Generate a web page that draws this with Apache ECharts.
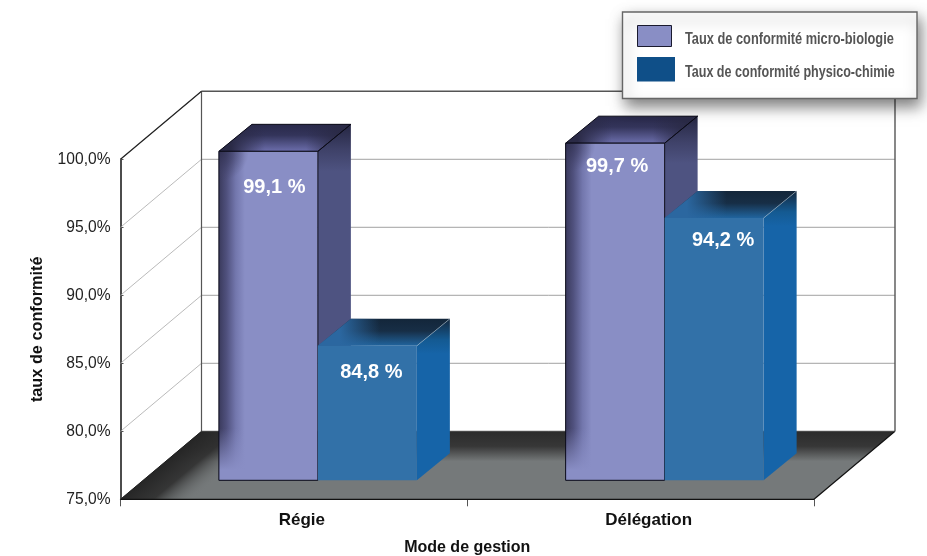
<!DOCTYPE html>
<html lang="fr">
<head>
<meta charset="utf-8">
<title>Taux de conformité</title>
<style>html,body{margin:0;padding:0;background:#fff}#c{width:927px;height:556px}</style>
<script src="https://cdn.jsdelivr.net/npm/echarts@6/dist/echarts.min.js"></script>
</head>
<body>
<div id="c"></div>
<script>
const categories = ['Régie', 'Délégation'];
const microBiologie = [99.1, 99.7];
const physicoChimie = [84.8, 94.2];
const yTicks = [75, 80, 85, 90, 95, 100];
const seriesNames = ['Taux de conformité micro-biologie', 'Taux de conformité physico-chimie'];

const G = echarts.graphic;
const WALL = { dx: 81, dy: -68 };
const FRONT = { dx: 24, dy: -19, topDy: -20.2 };
const DEPTH = { dx: 33, dy: -27 };
const BAR_W = 99;
const LABEL_NUDGE = [[[6, 36], [4, 27]], [[2, 23], [9, 23]]];
const fontAxis = '"Liberation Sans", Arial, sans-serif';

function poly(points, style, z2) {
  return { type: 'polygon', shape: { points }, style, z2: z2 || 0, silent: true };
}
function seg(x1, y1, x2, y2, stroke, lineWidth, z2) {
  return { type: 'line', shape: { x1, y1, x2, y2 }, style: { stroke, lineWidth: lineWidth || 1 }, z2: z2 || 0, silent: true };
}
function lin(x1, y1, x2, y2, stops) {
  return new G.LinearGradient(x1, y1, x2, y2, stops.map(s => ({ offset: s[0], color: s[1] })), true);
}
function rad(x, y, r, stops) {
  return new G.RadialGradient(x, y, r, stops.map(s => ({ offset: s[0], color: s[1] })), true);
}

function renderFrame(params, api) {
  const v = api.value(1);
  const xa = api.coord([0, v]);
  const halfBand = api.size([1, 0])[0] / 2;
  const x0 = xa[0] - halfBand;
  const x1 = x0 + halfBand * 4;
  const y = xa[1];
  const kids = [];
  if (v === yTicks[0]) {
    const bx0 = x0 + WALL.dx, bx1 = x1 + WALL.dx, by = y + WALL.dy;
    kids.push(poly([[x0, y], [x1, y], [bx1, by], [bx0, by]], {
      fill: lin(0, by, 0, y, [[0, '#2b2b2b'], [0.22, '#373737'], [0.44, '#75797a'], [1, '#75797a']])
    }));
    const mx = x0 + WALL.dx / 2, my = y + WALL.dy / 2;
    kids.push(poly([[x0, y], [x1, y], [bx1, by], [bx0, by]], {
      fill: lin(mx, my, mx + 30, my + 36, [[0, 'rgba(38,38,38,1)'], [0.45, 'rgba(48,48,48,0.92)'], [1, 'rgba(117,121,122,0)']])
    }, 1));
    kids.push(seg(x0, y, x1, y, '#111', 1.2, 2));
    kids.push(seg(x1, y, bx1, by, '#111', 1.2, 2));
    kids.push(seg(x0, y, bx0, by, '#222', 1, 2));
    kids.push(seg(bx0, by, bx1, by, '#444', 1, 2));
  } else {
    kids.push(seg(x0, y, x0 + WALL.dx, y + WALL.dy, '#a8a8a8', 0.8));
    if (v !== yTicks[yTicks.length - 1]) {
      kids.push(seg(x0 + WALL.dx, y + WALL.dy, x1 + WALL.dx, y + WALL.dy, '#a2a2a2', 1));
    }
  }
  if (v === yTicks[yTicks.length - 1]) {
    const bot = api.coord([0, yTicks[0]])[1];
    const bx0 = x0 + WALL.dx, bx1 = x1 + WALL.dx, by = y + WALL.dy;
    kids.push(seg(bx0, by, bx1, by, '#555', 1.4));
    kids.push(seg(bx0, by, bx0, bot + WALL.dy, '#555', 1.2));
    kids.push(seg(bx1, by, bx1, bot + WALL.dy, '#555', 1.4));
    kids.push(seg(x0, y, bx0, by, '#222', 1.2));
  }
  return { type: 'group', children: kids };
}

function renderBar(seriesIdx) {
  return function (params, api) {
    const cat = api.value(0), val = api.value(1);
    const c = api.coord([cat, val]);
    const base = api.coord([cat, yTicks[0]]);
    const left = c[0] + FRONT.dx + (seriesIdx === 0 ? -BAR_W : 0);
    const right = left + BAR_W;
    const top = c[1] + FRONT.topDy;
    const bottom = base[1] + FRONT.dy;
    const bk = { dx: DEPTH.dx, dy: DEPTH.dy };
    const kids = [];
    const isPurple = seriesIdx === 0;
    const front = isPurple ? '#898ec5' : '#3271a8';
    const topPts = [[left, top], [left + bk.dx, top + bk.dy], [right + bk.dx, top + bk.dy], [right, top]];
    const sidePts = [[right, top], [right + bk.dx, top + bk.dy], [right + bk.dx, bottom + bk.dy], [right, bottom]];
    if (isPurple) {
      kids.push(poly(sidePts, {
        fill: lin(0, top + bk.dy, 0, top + 20, [[0, '#252642'], [0.55, '#3f4269'], [1, '#4e5381']])
      }));
      kids.push(poly(topPts, {
        fill: lin(0, top + bk.dy, 0, top, [[0, '#29294a'], [0.4, '#33345a'], [1, '#6c6eac']])
      }, 2));
      kids.push(poly(topPts, {
        fill: lin(left + 12, 0, left + 46, 0, [[0, 'rgba(42,42,70,1)'], [1, 'rgba(42,42,70,0)']])
      }, 3));
      kids.push(poly(topPts, {
        fill: lin(right - 12, 0, right + 22, 0, [[0, 'rgba(42,42,70,0)'], [1, 'rgba(42,42,70,0.95)']]),
        stroke: '#0b0b18', lineWidth: 1
      }, 3));
      kids.push({ type: 'rect', shape: { x: left, y: top, width: BAR_W, height: bottom - top }, style: {
        fill: lin(left, 0, left + 26, 0, [[0, '#3a3a5c'], [0.3, '#50517e'], [0.65, '#7377ad'], [1, front]])
      }, z2: 4, silent: true });
      kids.push({ type: 'rect', shape: { x: left, y: top, width: 46, height: 30 }, style: {
        fill: rad(left, top, 30, [[0, 'rgba(48,48,80,0.95)'], [0.5, 'rgba(58,58,95,0.55)'], [1, 'rgba(70,70,110,0)']])
      }, z2: 5, silent: true });
      kids.push({ type: 'rect', shape: { x: left, y: bottom - 52, width: 30, height: 52 }, style: {
        fill: lin(0, bottom - 52, 0, bottom - 10, [[0, 'rgba(137,142,197,0)'], [1, 'rgba(137,142,197,1)']])
      }, z2: 5, silent: true });
      kids.push({ type: 'rect', shape: { x: left, y: top, width: BAR_W, height: bottom - top }, style: {
        fill: 'none', stroke: '#0b0b18', lineWidth: 1
      }, z2: 6, silent: true });
      kids.push(seg(right, top, right + bk.dx, top + bk.dy, '#0b0b18', 1, 6));
    } else {
      kids.push(poly(sidePts, {
        fill: lin(0, top + bk.dy, 0, top + 8, [[0, '#14283e'], [0.6, '#145a92'], [1, '#1664a8']])
      }));
      kids.push(poly(topPts, {
        fill: lin(0, top + bk.dy, 0, top, [[0, '#13263a'], [0.45, '#172e46'], [1, '#20649e']])
      }, 2));
      kids.push(poly(topPts, {
        fill: lin(left + 22, 0, left + 62, 0, [[0, 'rgba(43,103,160,1)'], [1, 'rgba(43,103,160,0)']])
      }, 3));
      kids.push({ type: 'rect', shape: { x: left, y: top, width: BAR_W, height: bottom - top }, style: { fill: front }, z2: 4, silent: true });
      kids.push(seg(right, top, right + bk.dx, top + bk.dy, 'rgba(170,190,205,0.7)', 0.7, 5));
    }
    const nudge = LABEL_NUDGE[cat][seriesIdx];
    kids.push({
      type: 'text', z2: 7, silent: true,
      x: (left + right) / 2 + nudge[0], y: top + nudge[1],
      style: {
        text: val.toFixed(1).replace('.', ',') + ' %',
        fill: '#fff', font: 'bold 20px ' + fontAxis, align: 'center', verticalAlign: 'middle'
      }
    });
    return { type: 'group', children: kids };
  };
}

const legendFont = 'bold 16px "Liberation Sans", sans-serif';
const option = {
  animation: false,
  backgroundColor: '#fff',
  grid: { left: 120.5, right: 113, top: 159.3, bottom: 56.7, outerBoundsMode: 'none' },
  graphic: [
    { type: 'rect', z: 100, silent: true, shape: { x: 622.5, y: 12, width: 294.5, height: 86.5 },
      style: { fill: '#fff', stroke: '#666', lineWidth: 1.4, shadowColor: 'rgba(0,0,0,0.5)', shadowBlur: 14, shadowOffsetX: 3, shadowOffsetY: 7 } },
    { type: 'rect', z: 101, silent: true, shape: { x: 637.5, y: 25.5, width: 34, height: 21 },
      style: { fill: '#898ec5', stroke: '#1a1a2e', lineWidth: 1 } },
    { type: 'rect', z: 101, silent: true, shape: { x: 637, y: 57, width: 38, height: 24.5 },
      style: { fill: '#0f4f88' } },
    { type: 'text', z: 101, silent: true, x: 685, y: 39.5, scaleX: 0.8,
      style: { text: seriesNames[0], font: legendFont, fill: '#555', verticalAlign: 'middle' } },
    { type: 'text', z: 101, silent: true, x: 685, y: 72.5, scaleX: 0.785,
      style: { text: seriesNames[1], font: legendFont, fill: '#555', verticalAlign: 'middle' } }
  ],
  xAxis: {
    type: 'category', data: categories,
    name: 'Mode de gestion', nameLocation: 'middle', nameGap: 40,
    nameTextStyle: { color: '#111', fontFamily: fontAxis, fontWeight: 'bold', fontSize: 16 },
    axisLine: { show: true, lineStyle: { color: '#111', width: 1.2 } },
    axisTick: { show: true, length: 7, lineStyle: { color: '#555' } },
    axisLabel: { color: '#111', fontFamily: fontAxis, fontWeight: 'bold', fontSize: 17, margin: 13, padding: [0, 0, 0, 16] },
    splitLine: { show: false }
  },
  yAxis: {
    type: 'value', min: 75, max: 100, interval: 5,
    name: 'taux de conformité', nameLocation: 'middle', nameGap: 75, nameRotate: 90,
    nameTextStyle: { color: '#111', fontFamily: fontAxis, fontWeight: 'bold', fontSize: 16.3 },
    axisLine: { show: true, onZero: false, lineStyle: { color: '#111', width: 1.5 } },
    axisTick: { show: true, inside: true, length: 3, lineStyle: { color: '#555' } },
    axisLabel: { color: '#222', fontFamily: fontAxis, fontSize: 15.6, margin: 10, padding: [2, 0, 0, 0],
      formatter: v => v.toFixed(1).replace('.', ',') + '%' },
    splitLine: { show: false }
  },
  series: [
    { type: 'custom', name: 'cadre', z: 1, renderItem: renderFrame, encode: { x: 0, y: 1 },
      data: yTicks.map(v => [0, v]) },
    { type: 'custom', name: seriesNames[0], z: 3, renderItem: renderBar(0), encode: { x: 0, y: 1 },
      itemStyle: { color: '#898ec5' }, data: microBiologie.map((v, i) => [i, v]) },
    { type: 'custom', name: seriesNames[1], z: 4, renderItem: renderBar(1), encode: { x: 0, y: 1 },
      itemStyle: { color: '#0f4f88' }, data: physicoChimie.map((v, i) => [i, v]) }
  ]
};
echarts.init(document.getElementById('c')).setOption(option);
</script>
</body>
</html>
